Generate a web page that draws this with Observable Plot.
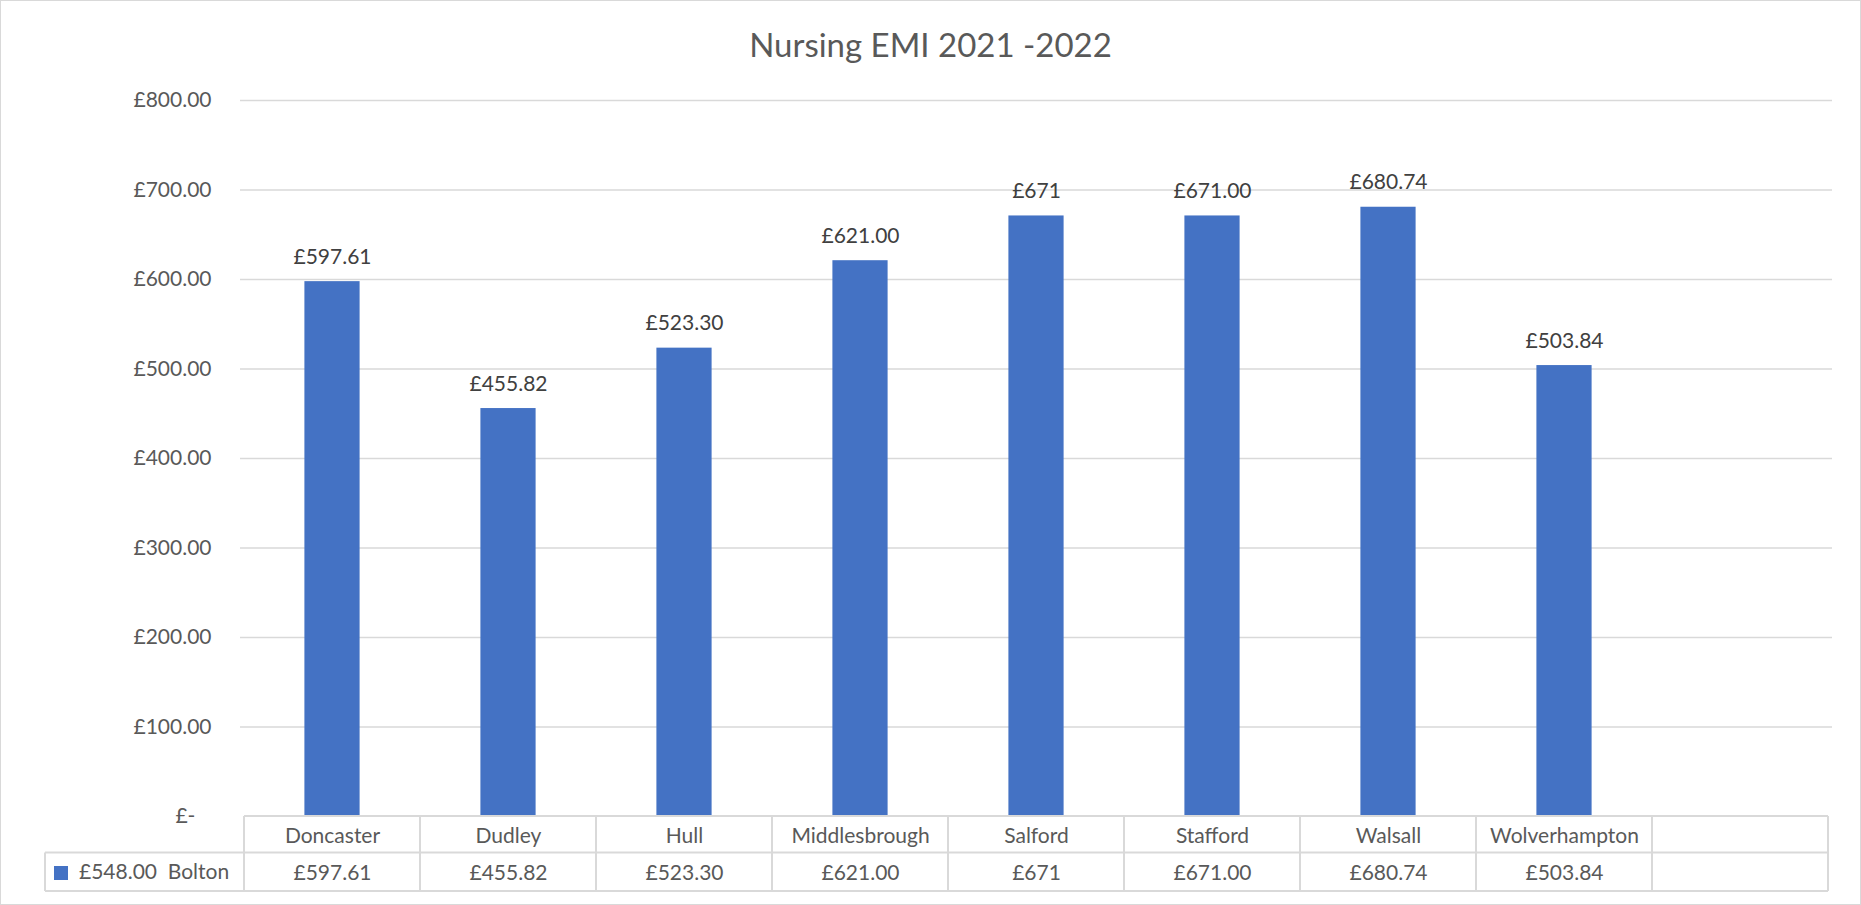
<!DOCTYPE html>
<html>
<head>
<meta charset="utf-8">
<script src="https://cdn.jsdelivr.net/npm/d3@7"></script>
<script src="https://cdn.jsdelivr.net/npm/@observablehq/plot@0.6"></script>
<style>
  html, body { margin: 0; padding: 0; background: #fff; }
  #wrap { position: relative; width: 1861px; height: 905px; overflow: hidden; font-family: Lato, sans-serif; }
  #title { position: absolute; left: 0; top: 28px; width: 1861px; text-align: center; font-size: 33px; line-height: 33px; color: #595959; z-index: 2; }
  #chart { position: absolute; left: 0; top: 0; }
  #border { position: absolute; left: 0; top: 0; width: 1859px; height: 903px; border: 1px solid #d9d9d9; pointer-events: none; z-index: 3; }
</style>
</head>
<body>
<div id="wrap">
  <div id="chart"></div>
  <div id="title"></div>
  <div id="border"></div>
</div>
<script>
// ---- data ----
const chartTitle = "Nursing EMI 2021 -2022";
const categories = ["Doncaster", "Dudley", "Hull", "Middlesbrough", "Salford", "Stafford", "Walsall", "Wolverhampton"];
const values = [597.61, 455.82, 523.30, 621.00, 671, 671.00, 680.74, 503.84];
const valueLabels = ["£597.61", "£455.82", "£523.30", "£621.00", "£671", "£671.00", "£680.74", "£503.84"];
const yTicks = [0, 100, 200, 300, 400, 500, 600, 700, 800];
const legendValueLabel = "£548.00";
const legendSeriesName = "Bolton";
const emptyColumn = "";

// ---- build ----
document.getElementById("title").textContent = chartTitle;
const xDomain = [...categories, emptyColumn];
const rows = categories.map((c, i) => ({category: c, value: values[i], label: valueLabels[i]}));

const BLUE = "#4472C4";
const GRID = "#d9d9d9";
const TEXT = "#595959";

const yFormat = d => d === 0 ? "£-\u00a0\u00a0\u00a0" : "£" + d3.format(",.2f")(d);

function tableMark(index, scales, vals, dims) {
  const x = scales.x;
  const step = x(xDomain[1]) - x(xDomain[0]);
  const left = x(xDomain[0]);
  const right = x(xDomain[xDomain.length - 1]) + step;
  const top = dims.height - dims.marginBottom;
  const mid = top + 36.5;
  const bottom = mid + 38.5;
  const legendLeft = 45;
  const g = d3.create("svg:g").attr("stroke", GRID).attr("stroke-width", 2).attr("fill", "none");
  g.append("line").attr("x1", left).attr("x2", right).attr("y1", top).attr("y2", top);
  g.append("line").attr("x1", legendLeft).attr("x2", right).attr("y1", mid).attr("y2", mid);
  g.append("line").attr("x1", legendLeft).attr("x2", right).attr("y1", bottom).attr("y2", bottom);
  g.append("line").attr("x1", legendLeft).attr("x2", legendLeft).attr("y1", mid).attr("y2", bottom);
  for (let k = 0; k <= xDomain.length; k++) {
    const xx = left + k * step;
    g.append("line").attr("x1", xx).attr("x2", xx).attr("y1", top).attr("y2", bottom);
  }
  const lg = d3.create("svg:g");
  lg.append("rect").attr("x", 54).attr("y", mid + 13.5).attr("width", 14).attr("height", 14).attr("fill", BLUE);
  lg.append("text").attr("x", 79).attr("y", bottom - 12).attr("fill", TEXT)
    .attr("text-anchor", "start").attr("font-size", 21)
    .text(legendValueLabel + "\u00a0\u00a0" + legendSeriesName);
  const outer = d3.create("svg:g");
  outer.append(() => g.node());
  outer.append(() => lg.node());
  return outer.node();
}

const plot = Plot.plot({
  width: 1861,
  height: 905,
  marginLeft: 240,
  marginRight: 29,
  marginTop: 100,
  marginBottom: 89,
  style: {fontFamily: "Lato, sans-serif", fontSize: "21px", color: TEXT, background: "transparent", overflow: "visible"},
  x: {type: "band", domain: xDomain, padding: 0, axis: null},
  y: {domain: [0, 800], axis: null},
  marks: [
    Plot.gridY(yTicks.filter(d => d > 0), {stroke: GRID, strokeOpacity: 1, strokeWidth: 1.5}),
    Plot.axisY({ticks: yTicks, tickFormat: yFormat, tickSize: 0, tickPadding: 29, fontSize: 21, fill: TEXT, label: null}),
    Plot.barY(rows, {x: "category", y: "value", fill: BLUE, insetLeft: 60.4, insetRight: 60.4}),
    Plot.text(rows, {x: "category", y: "value", text: "label", lineAnchor: "bottom", dy: -18, fill: "#404040", fontSize: 21}),
    tableMark,
    Plot.text(rows, {x: "category", text: "category", frameAnchor: "bottom", lineAnchor: "bottom", dy: 26, fill: TEXT, fontSize: 21}),
    Plot.text(rows, {x: "category", text: "label", frameAnchor: "bottom", lineAnchor: "bottom", dy: 63, fill: TEXT, fontSize: 21})
  ]
});
document.getElementById("chart").append(plot);
</script>
</body>
</html>
